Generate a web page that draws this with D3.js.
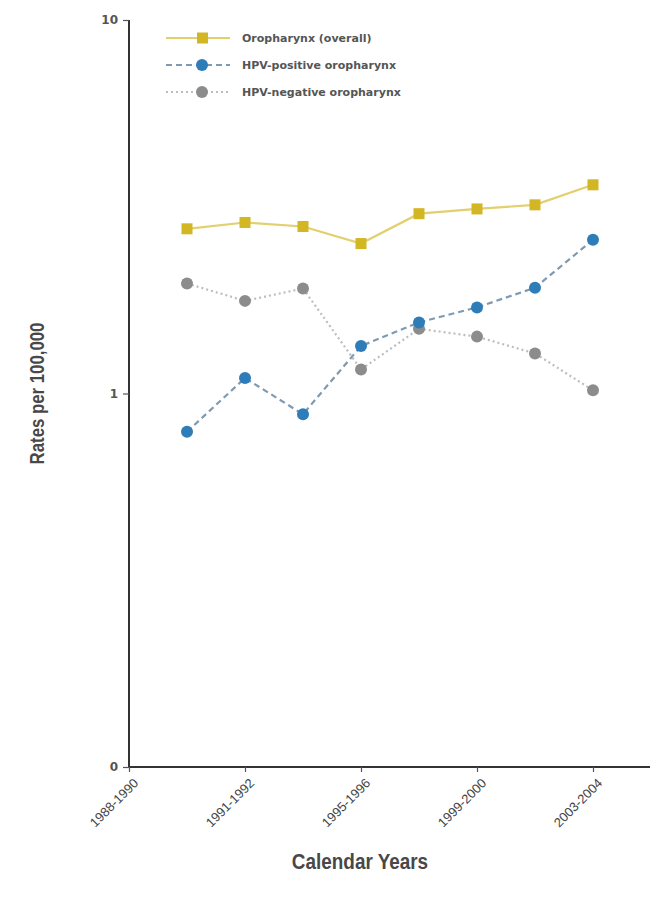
<!DOCTYPE html>
<html>
<head>
<meta charset="utf-8">
<script src="https://cdn.jsdelivr.net/npm/d3@7"></script>
<style>
  body { margin: 0; background: #fff; }
  svg { display: block; }
</style>
</head>
<body>
<div id="chart"></div>
<script>
// Period index for each point (labelled ticks sit every two steps)
const periods = [1, 2, 3, 4, 5, 6, 7, 8];
const tickPositions = [0, 2, 4, 6, 8];
const tickLabels = ["1988-1990", "1991-1992", "1995-1996", "1999-2000", "2003-2004"];

// Rates per 100,000
const overall = [2.76, 2.87, 2.80, 2.52, 3.03, 3.12, 3.20, 3.62];
const hpvPositive = [0.79, 1.10, 0.88, 1.34, 1.55, 1.70, 1.92, 2.58];
const hpvNegative = [1.97, 1.77, 1.91, 1.16, 1.49, 1.42, 1.28, 1.02];

const yTicks = [0.1, 1, 10];
const yTickLabels = ["0", "1", "10"];

const width = 650, height = 909;
const margin = { top: 20, right: 0, bottom: 142, left: 129 };

const svg = d3.select("#chart").append("svg")
    .attr("width", width)
    .attr("height", height);

const x = d3.scaleLinear().domain([0, 9]).range([margin.left, width + 1]);
const y = d3.scaleLog().domain([0.1, 10]).range([height - margin.bottom, margin.top]);

const sans = "'Liberation Sans', Arial, sans-serif";

// Y axis
const yAxis = svg.append("g")
    .attr("transform", "translate(" + margin.left + ",0)")
    .call(d3.axisLeft(y).tickValues(yTicks).tickFormat((d, i) => yTickLabels[i]).tickSize(6).tickPadding(5));
yAxis.select(".domain").attr("stroke", "#333").attr("stroke-width", 2).attr("d", "M0," + y(0.1) + "V" + y(10));
yAxis.selectAll(".tick line").attr("stroke", "#555").attr("stroke-width", 1.2);
yAxis.selectAll("text")
    .style("font-family", "'DejaVu Sans', sans-serif")
    .style("font-weight", "bold")
    .style("font-size", "12px")
    .attr("fill", "#555");

// X axis
const xAxis = svg.append("g")
    .attr("transform", "translate(0," + y(0.1) + ")")
    .call(d3.axisBottom(x).tickValues(tickPositions).tickFormat((d, i) => tickLabels[i]).tickSize(5).tickPadding(6));
xAxis.select(".domain").attr("stroke", "#333").attr("stroke-width", 2).attr("d", "M" + margin.left + ",0H" + width);
xAxis.selectAll(".tick line").attr("stroke", "#555").attr("stroke-width", 1.2);
xAxis.selectAll("text")
    .style("font-family", sans)
    .style("font-size", "13px")
    .attr("fill", "#444")
    .attr("transform", "rotate(-45)")
    .attr("dx", "-0.4em")
    .attr("dy", "0.6em")
    .style("text-anchor", "end");

// Axis titles (slightly condensed like the original typeface)
svg.append("text")
    .attr("transform", "translate(360,869) scale(0.86,1)")
    .attr("text-anchor", "middle")
    .style("font-family", sans)
    .style("font-size", "22px")
    .style("font-weight", "bold")
    .attr("fill", "#484848")
    .text("Calendar Years");

svg.append("text")
    .attr("transform", "translate(44," + y(1) + ") rotate(-90) scale(0.84,1)")
    .attr("text-anchor", "middle")
    .style("font-family", sans)
    .style("font-size", "20px")
    .style("font-weight", "bold")
    .attr("fill", "#484848")
    .text("Rates per 100,000");

// Series
const series = [
    { name: "Oropharynx (overall)", values: overall, line: "#e2cf6e", mark: "#d2b623", dash: null, shape: "square" },
    { name: "HPV-positive oropharynx", values: hpvPositive, line: "#7e9ab2", mark: "#2e7db8", dash: "6,4", shape: "circle" },
    { name: "HPV-negative oropharynx", values: hpvNegative, line: "#bdbdbd", mark: "#8c8c8c", dash: "2,3", shape: "circle" }
];

const line = d3.line()
    .x((d, i) => x(periods[i]))
    .y(d => y(d));

// draw the later series first so the overall line sits on top
series.slice().reverse().forEach(s => {
    svg.append("path")
        .datum(s.values)
        .attr("fill", "none")
        .attr("stroke", s.line)
        .attr("stroke-width", 2.2)
        .attr("stroke-dasharray", s.dash)
        .attr("d", line);

    if (s.shape === "square") {
        svg.selectAll(null)
            .data(s.values)
            .enter().append("rect")
            .attr("x", (d, i) => x(periods[i]) - 5.5)
            .attr("y", d => y(d) - 5.5)
            .attr("width", 11)
            .attr("height", 11)
            .attr("fill", s.mark);
    } else {
        svg.selectAll(null)
            .data(s.values)
            .enter().append("circle")
            .attr("cx", (d, i) => x(periods[i]))
            .attr("cy", d => y(d))
            .attr("r", 6)
            .attr("fill", s.mark);
    }
});

// Legend
const legend = svg.selectAll(".legend")
    .data(series)
    .enter().append("g")
    .attr("class", "legend")
    .attr("transform", (d, i) => "translate(0," + (38 + i * 27) + ")");

legend.append("line")
    .attr("x1", 166)
    .attr("x2", 230)
    .attr("stroke", d => d.line)
    .attr("stroke-width", 2.2)
    .attr("stroke-dasharray", d => d.dash);

legend.filter(d => d.shape === "square").append("rect")
    .attr("x", 197)
    .attr("y", -5.5)
    .attr("width", 11)
    .attr("height", 11)
    .attr("fill", d => d.mark);

legend.filter(d => d.shape === "circle").append("circle")
    .attr("cx", 202)
    .attr("r", 6)
    .attr("fill", d => d.mark);

legend.append("text")
    .attr("x", 242)
    .attr("dy", "0.35em")
    .style("font-family", "'DejaVu Sans', sans-serif")
    .style("font-weight", "bold")
    .style("font-size", "11px")
    .attr("fill", "#555")
    .text(d => d.name);
</script>
</body>
</html>
